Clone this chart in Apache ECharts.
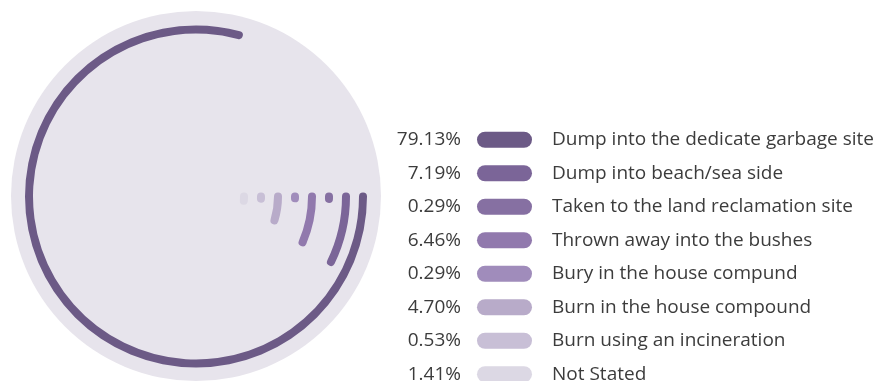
<!DOCTYPE html>
<html>
<head>
<meta charset="utf-8">
<script src="https://cdn.jsdelivr.net/npm/echarts@6/dist/echarts.min.js"></script>
<style>
  html, body { margin: 0; padding: 0; background: #ffffff; }
  #chart { width: 878px; height: 381px; }
</style>
</head>
<body>
<div id="chart"></div>
<script>
// Household waste disposal methods (share of households, %)
const categories = [
  'Dump into the dedicate garbage site',
  'Dump into beach/sea side',
  'Taken to the land reclamation site',
  'Thrown away into the bushes',
  'Bury in the house compund',
  'Burn in the house compound',
  'Burn using an incineration',
  'Not Stated'
];
const shares = [79.13, 7.19, 0.29, 6.46, 0.29, 4.70, 0.53, 1.41];
const palette = ['#6c5a86', '#7b6598', '#8670a2', '#9179ad', '#a08cbb', '#b8abc9', '#c8bfd6', '#dcd8e4'];

const FONT = '"Open Sans", "Noto Sans", sans-serif';
const chart = echarts.init(document.getElementById('chart'), null, { renderer: 'canvas' });

chart.setOption({
  animation: false,
  backgroundColor: '#ffffff',
  graphic: [{
    type: 'circle',
    z: -10,
    silent: true,
    shape: { cx: 196, cy: 196, r: 185 },
    style: { fill: '#e7e4ec' }
  }],
  polar: { center: [196, 196.5], radius: [39.5, 175.5] },
  angleAxis: {
    type: 'value', min: 0, max: 100, startAngle: 0, clockwise: true,
    axisLine: { show: false }, axisTick: { show: false },
    axisLabel: { show: false }, splitLine: { show: false }
  },
  radiusAxis: {
    type: 'category', data: categories, inverse: true,
    axisLine: { show: false }, axisTick: { show: false },
    axisLabel: { show: false }, splitLine: { show: false }
  },
  // legend-style rows: value, pill swatch, method name
  grid: { left: 477, width: 55, top: 123, height: 268, containLabel: false, outerBoundsMode: 'none' },
  xAxis: { type: 'value', min: 0, max: 1, show: false },
  yAxis: {
    type: 'category', data: categories, inverse: true,
    axisLine: { show: false }, axisTick: { show: false },
    axisLabel: {
      margin: 16,
      formatter: (v, i) => shares[i].toFixed(2) + '%',
      color: '#3c3c3c', fontSize: 19, fontFamily: FONT
    }
  },
  series: [
    {
      type: 'bar',
      coordinateSystem: 'polar',
      roundCap: true,
      barWidth: 8,
      silent: true,
      data: shares.map((v, i) => ({ value: v, itemStyle: { color: palette[i] } }))
    },
    {
      type: 'bar',
      xAxisIndex: 0, yAxisIndex: 0,
      barWidth: 16,
      silent: true,
      data: shares.map((v, i) => ({ value: 1, itemStyle: { color: palette[i], borderRadius: 8 } })),
      label: {
        show: true, position: 'right', distance: 20,
        formatter: p => categories[p.dataIndex],
        color: '#3c3c3c', fontSize: 19, fontFamily: FONT
      }
    }
  ]
});
</script>
</body>
</html>
